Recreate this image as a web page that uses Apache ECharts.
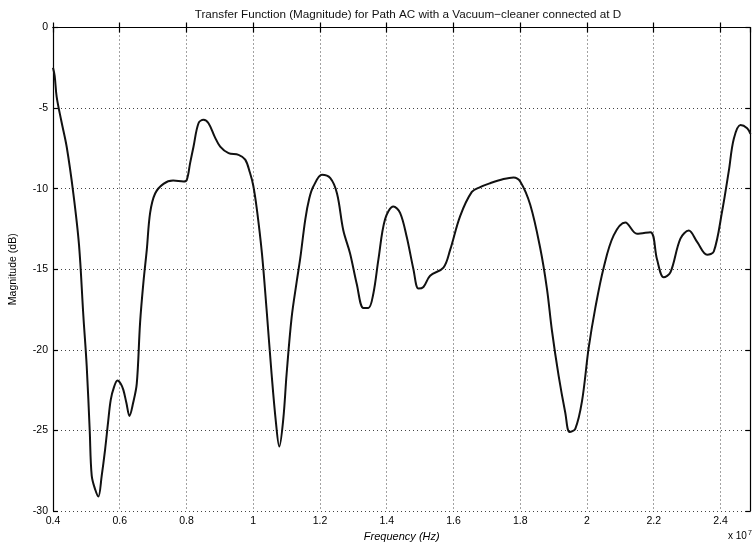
<!DOCTYPE html>
<html>
<head>
<meta charset="utf-8">
<script src="https://cdn.jsdelivr.net/npm/echarts@6/dist/echarts.min.js"></script>
<style>html,body{margin:0;padding:0;background:#fff}#c{width:754px;height:554px}</style>
</head>
<body>
<div id="c"></div>
<script>
// Frequency in units of 10^7 Hz
const freq = [0.400,0.405,0.411,0.425,0.441,0.461,0.478,0.491,0.501,0.510,0.516,0.527,0.536,0.546,0.556,0.565,0.573,0.583,0.593,0.603,0.611,0.620,0.629,0.640,0.651,0.661,0.671,0.681,0.691,0.706,0.731,0.760,0.791,0.801,0.811,0.821,0.836,0.851,0.866,0.885,0.901,0.926,0.956,0.976,0.990,1.000,1.011,1.026,1.040,1.055,1.068,1.078,1.090,1.100,1.115,1.130,1.141,1.156,1.168,1.180,1.206,1.231,1.251,1.270,1.290,1.310,1.330,1.345,1.360,1.375,1.395,1.420,1.440,1.460,1.480,1.495,1.510,1.530,1.570,1.590,1.620,1.655,1.680,1.710,1.750,1.780,1.800,1.830,1.860,1.880,1.895,1.915,1.935,1.948,1.965,1.985,2.005,2.025,2.050,2.080,2.115,2.150,2.190,2.210,2.230,2.250,2.280,2.305,2.330,2.360,2.380,2.405,2.425,2.440,2.460,2.480,2.490];
// Magnitude in dB
const magnitude = [-2.5,-3.0,-4.3,-5.8,-7.4,-10.3,-13.5,-17.9,-21.0,-25.0,-27.8,-28.7,-29.1,-27.8,-26.2,-24.5,-23.1,-22.3,-21.9,-22.1,-22.5,-23.3,-24.1,-23.3,-22.1,-18.3,-15.8,-13.8,-11.5,-10.3,-9.7,-9.5,-9.56,-9.45,-8.4,-7.4,-5.94,-5.73,-5.94,-6.8,-7.39,-7.8,-7.9,-8.2,-9.0,-9.8,-11.3,-14.0,-17.5,-21.5,-24.5,-26.0,-24.3,-21.5,-18.0,-15.8,-14.3,-11.9,-10.6,-9.87,-9.14,-9.35,-10.3,-12.6,-14.0,-15.9,-17.4,-17.4,-16.5,-14.4,-11.9,-11.1,-11.5,-13.0,-15.0,-16.2,-16.1,-15.4,-14.9,-13.8,-11.7,-10.2,-9.9,-9.66,-9.4,-9.3,-9.55,-11.0,-13.7,-16.2,-18.8,-21.6,-23.9,-25.1,-24.9,-23.2,-19.9,-17.4,-14.9,-12.9,-12.1,-12.8,-12.7,-14.4,-15.5,-15.2,-13.1,-12.6,-13.3,-14.1,-13.9,-11.4,-8.9,-6.9,-6.05,-6.25,-6.6];
const titleText = 'Transfer Function (Magnitude) for Path AC with a Vacuum\u2212cleaner connected at D';
const xName = 'Frequency (Hz)';
const yName = 'Magnitude (dB)';

const pts = freq.map((f, i) => [f, magnitude[i]]);
const FONT = 'Liberation Sans';
const chart = echarts.init(document.getElementById('c'), null, {renderer: 'canvas'});
const gridLine = {show: true, lineStyle: {color: '#444', width: 1, type: [1, 3]}};
const axLine = {show: true, lineStyle: {color: '#000', width: 1.2}};
const tick = {show: true, inside: true, length: 5, lineStyle: {color: '#000', width: 1.2}};
chart.setOption({
  animation: false,
  backgroundColor: '#fff',
  title: {
    text: titleText, left: 403, top: 4, textAlign: 'center',
    textStyle: {fontFamily: FONT, fontSize: 11.7, fontWeight: 'normal', color: '#111'}
  },
  grid: {left: 53, right: 3.5, top: 27.5, bottom: 43},
  xAxis: [{
    type: 'value', min: 0.4, max: 2.49, interval: 0.2,
    axisLine: axLine, axisTick: tick, splitLine: gridLine,
    axisLabel: {
      color: '#000', fontFamily: FONT, fontSize: 10.5, margin: 5,
      showMaxLabel: false,
      formatter: v => String(+v.toFixed(1))
    },
    name: xName, nameLocation: 'middle', nameGap: 20,
    nameTextStyle: {fontFamily: FONT, fontSize: 11, fontStyle: 'italic', color: '#000'}
  }, {
    type: 'value', position: 'top', min: 0.4, max: 2.49, interval: 0.2,
    axisLine: axLine, axisTick: tick, splitLine: {show: false}, axisLabel: {show: false}
  }],
  yAxis: [{
    type: 'value', min: -30, max: 0, interval: 5,
    axisLine: axLine, axisTick: tick, splitLine: gridLine,
    axisLabel: {color: '#000', fontFamily: FONT, fontSize: 10.5, margin: 5},
    name: yName, nameLocation: 'middle', nameGap: 34, nameRotate: 90,
    nameTextStyle: {fontFamily: FONT, fontSize: 10.5, color: '#000'}
  }, {
    type: 'value', position: 'right', min: -30, max: 0, interval: 5,
    axisLine: axLine, axisTick: tick, splitLine: {show: false}, axisLabel: {show: false}
  }],
  graphic: [{
    type: 'text', left: 728, top: 530,
    style: {
      text: '{a|x 10}{s|7}',
      rich: {
        a: {fontFamily: FONT, fontSize: 10, fill: '#000'},
        s: {fontFamily: FONT, fontSize: 7, fill: '#000', verticalAlign: 'top', padding: [0, 0, 6, 1]}
      }
    }
  }],
  series: [{
    type: 'line', data: pts, xAxisIndex: 0, yAxisIndex: 0,
    showSymbol: false, smooth: 0.35,
    lineStyle: {color: '#111', width: 2}
  }]
});
</script>
</body>
</html>
